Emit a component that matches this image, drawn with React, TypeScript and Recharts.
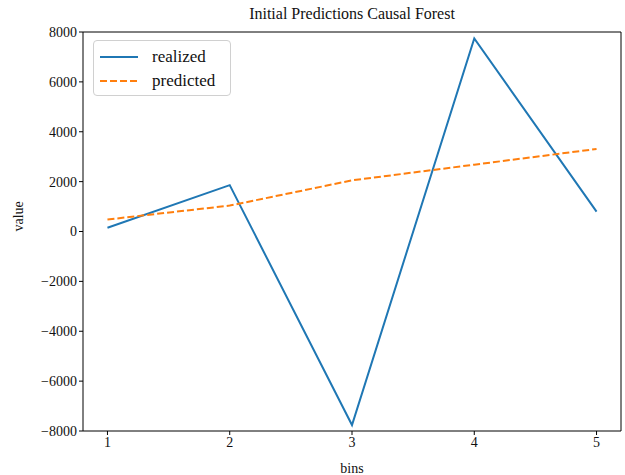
import { LineChart, Line, XAxis, YAxis, ReferenceLine } from "recharts";

const bins = [1, 2, 3, 4, 5];
const realized = [150, 1860, -7760, 7740, 800];
const predicted = [480, 1040, 2050, 2680, 3310];
const yTicks = [-8000, -6000, -4000, -2000, 0, 2000, 4000, 6000, 8000];

const data = bins.map((b, i) => ({ bin: b, realized: realized[i], predicted: predicted[i] }));

const font = "'Liberation Serif', 'DejaVu Serif', serif";
const fmt = (v: number) => String(v).replace("-", "\u2212");

function LegendBox() {
    return <div style={{ position: "absolute", left: 93, top: 40, width: 126, height: 46, background: "white", border: "1px solid #d0d0d0", borderRadius: 4, padding: "4px 4px 4px 6px", fontFamily: font, fontSize: 17, color: "#111" }}>
        <div style={{ display: "flex", alignItems: "center", height: 24 }}>
            <svg width={40} height={10}><line x1={0} y1={5} x2={38} y2={5} stroke="#1f77b4" strokeWidth={2} /></svg>
            <span style={{ marginLeft: 12 }}>realized</span>
        </div>
        <div style={{ display: "flex", alignItems: "center", height: 24 }}>
            <svg width={40} height={10}><line x1={0} y1={5} x2={38} y2={5} stroke="#ff7f0e" strokeWidth={2} strokeDasharray="7 3" /></svg>
            <span style={{ marginLeft: 12 }}>predicted</span>
        </div>
    </div>;
}

export default function App() {
    return <div style={{ position: "fixed", left: 0, top: 0, width: 625, height: 475, background: "white" }}>
        <div style={{ position: "absolute", left: 83, width: 538, top: 5, textAlign: "center", fontFamily: font, fontSize: 16, color: "#111" }}>
            Initial Predictions Causal Forest
        </div>
        <LineChart width={625} height={475} data={data} margin={{ top: 32, right: 4, bottom: 0, left: 0 }}>
            <XAxis dataKey="bin" type="number" domain={[0.8, 5.2]} ticks={bins} height={44}
                stroke="#000" tickSize={4} tick={{ fill: "#111", fontFamily: font, fontSize: 14 }}
                label={{ value: "bins", position: "insideBottom", offset: 2, fill: "#111", fontFamily: font, fontSize: 14 }} />
            <YAxis type="number" domain={[-8000, 8000]} ticks={yTicks} width={83} tickFormatter={fmt}
                stroke="#000" tickSize={4} tick={{ fill: "#111", fontFamily: font, fontSize: 14 }}
                label={{ value: "value", angle: -90, position: "insideLeft", offset: 18, fill: "#111", fontFamily: font, fontSize: 14 }} />
            <ReferenceLine y={8000} stroke="#000" />
            <ReferenceLine x={5.2} stroke="#000" />
            <Line dataKey="realized" stroke="#1f77b4" strokeWidth={2} dot={false} isAnimationActive={false} />
            <Line dataKey="predicted" stroke="#ff7f0e" strokeWidth={2} strokeDasharray="7 3" dot={false} isAnimationActive={false} />
        </LineChart>
        <LegendBox />
    </div>;
}
